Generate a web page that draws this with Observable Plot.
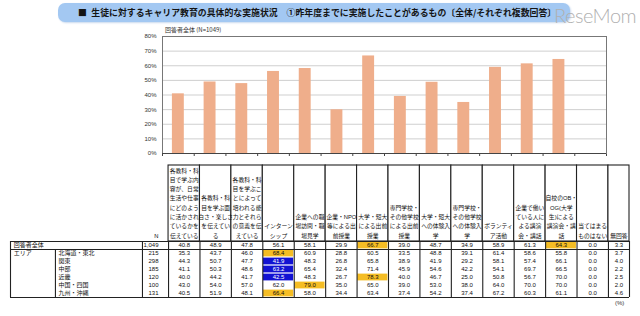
<!DOCTYPE html>
<html><head><meta charset="utf-8">
<script src="https://cdn.jsdelivr.net/npm/d3@7"></script>
<script src="https://cdn.jsdelivr.net/npm/@observablehq/plot@0.6"></script>
<style>
body{margin:0;background:#fff;}
#wrap{position:relative;width:640px;height:316px;overflow:hidden;background:#fff;font-family:"Liberation Sans","Noto Sans CJK JP",sans-serif;}
#wrap svg{position:absolute;left:0;}
.titlebar{position:absolute;left:58px;top:3px;width:512px;height:19px;background:#a3c8f2;border-radius:7px;box-shadow:1px 1px 2px #c9d9ee;}
.title{position:absolute;left:78px;top:3px;font-size:8.9px;font-weight:bold;color:#141414;line-height:19px;white-space:nowrap;font-family:"Noto Sans CJK JP",sans-serif;}
.logo{position:absolute;left:554px;top:3px;font-size:20px;color:#b0b0b0;font-family:Lato,"Open Sans",sans-serif;font-weight:300;letter-spacing:-0.5px;}
.sub{position:absolute;left:165px;top:25px;font-size:6px;color:#333;font-family:"Noto Sans CJK JP",sans-serif;}
.pct{position:absolute;left:615px;top:300px;font-size:6px;color:#333;}
</style></head><body><div id="wrap"></div>
<script>
// ---- data ----
const columns = [
 "各教科・科\n目で学ぶ内\n容が、日常\n生活や仕事\nにどのよう\nに活かされ\nているかを\n伝えている",
 "各教科・科\n目を学ぶ面\n白さ・楽しさ\nを伝えてい\nる",
 "各教科・科\n目を学ぶこ\nとによって\n培われる能\n力とそれら\nの意義を伝\nえている",
 "インターン\nシップ",
 "企業への職\n場訪問・職\n場見学",
 "企業・NPO\n等による出\n前授業",
 "大学・短大\nによる出前\n授業",
 "専門学校・\nその他学校\nによる出前\n授業",
 "大学・短大\nへの体験入\n学",
 "専門学校・\nその他学校\nへの体験入\n学",
 "ボランティ\nア活動",
 "企業で働い\nている人に\nよる講演\n会・講話",
 "自校のOB・\nOG(大学\n生)による\n講演会・講\n話",
 "当てはまる\nものはない",
 "無回答"
];
const rowNames = ["回答者全体","北海道・東北","関東","中部","近畿","中国・四国","九州・沖縄"];
const rowN = ["1,049","215","298","185","120","100","131"];
const vTotal    = [40.8,48.9,47.8,56.1,58.1,29.9,66.7,39.0,48.7,34.9,58.9,61.3,64.3,0.0,3.3];
const vHokkaido = [35.3,43.7,46.0,68.4,60.9,28.8,60.5,33.5,48.8,39.1,61.4,58.6,55.8,0.0,3.7];
const vKanto    = [44.3,50.7,47.7,41.9,48.3,26.8,65.8,38.9,41.9,29.2,58.1,57.4,66.1,0.0,4.0];
const vChubu    = [41.1,50.3,48.6,63.2,65.4,32.4,71.4,45.9,54.6,42.2,54.1,69.7,66.5,0.0,2.2];
const vKinki    = [40.0,44.2,41.7,42.5,48.3,26.7,78.3,40.0,46.7,25.0,50.8,56.7,70.0,0.0,2.5];
const vChugoku  = [43.0,54.0,57.0,62.0,79.0,35.0,65.0,39.0,53.0,38.0,64.0,70.0,70.0,0.0,2.0];
const vKyushu   = [40.5,51.9,48.1,66.4,58.0,34.4,63.4,37.4,54.2,37.4,67.2,60.3,61.1,0.0,4.6];
const highCells = [["回答者全体",6],["回答者全体",12],["北海道・東北",3],["近畿",6],["中国・四国",4],["九州・沖縄",3]];
const lowCells  = [["関東",3],["中部",3],["近畿",3]];
const yTicks = [0,10,20,30,40,50,60,70,80];
const chartTitle = "回答者全体 (N=1049)";
const mainTitle = "生徒に対するキャリア教育の具体的な実施状況\u3000①昨年度までに実施したことがあるもの〔全体/それぞれ複数回答〕";

// ---- build ----
const wrap = document.getElementById("wrap");
const font = "'Liberation Sans','Noto Sans CJK JP',sans-serif";
wrap.insertAdjacentHTML("beforeend",
  `<div class="titlebar"></div><div class="title">■\u2002${mainTitle}</div><div class="logo">ReseMom</div><div class="sub">${chartTitle}</div><div class="pct">(%)</div>`);

// bar chart (first 14 items, 無回答 excluded)
const nBars = 14;
const chartData = d3.range(nBars).map(i => ({i, cat: columns[i].replace(/\n/g, ""), value: vTotal[i]}));
const chart = Plot.plot({
  width: 640, height: 160,
  marginTop: 36, marginBottom: 7, marginLeft: 162, marginRight: 34,
  style: {background: "transparent", fontSize: "6px", fontFamily: font, color: "#333", overflow: "visible"},
  x: {domain: [0, nBars], axis: null},
  y: {domain: [0, 80], axis: null},
  marks: [
    Plot.gridY(yTicks.filter(t => t > 0 && t < 80), {stroke: "#cfcfcf", strokeOpacity: 1}),
    Plot.rectY(chartData, {x: "i", interval: 1, y: "value", fill: "#efae8b", insetLeft: 9.9, insetRight: 9.9}),
    Plot.axisY(yTicks, {tickFormat: d => d + "%", tickSize: 0, tickPadding: 6, fill: "#333", label: null}),
    Plot.axisX(d3.range(nBars + 1), {tickFormat: () => "", tickSize: 3, stroke: "#444", label: null}),
    Plot.frame({stroke: "#777"}),
    Plot.ruleY([0], {stroke: "#444"})
  ]
});
chart.style.top = "0px";
wrap.appendChild(chart);

// table geometry in column units
const lastW = 0.67;
const xLeft = -5.03, xRight = columns.length - 1 + lastW;
const colX1 = c => c, colX2 = c => c === columns.length - 1 ? c + lastW : c + 1;
const colData = columns.map((label, c) => ({c, label}));
const boundaries = d3.range(columns.length).concat([xRight]);

// header
const header = Plot.plot({
  width: 640, height: 82,
  marginTop: 5, marginBottom: 1, marginLeft: 10, marginRight: 11,
  style: {background: "transparent", fontSize: "5.8px", fontFamily: font, color: "#111", overflow: "visible"},
  x: {domain: [xLeft, xRight], axis: null},
  marks: [
    Plot.rect(colData, {x1: d => colX1(d.c), x2: d => colX2(d.c), fill: "white", stroke: "#222", strokeWidth: 1.1}),
    Plot.text(colData, {x: d => (colX1(d.c) + colX2(d.c)) / 2, text: "label", frameAnchor: "bottom", lineAnchor: "bottom", dy: -4, lineHeight: 1.6, fill: "#111"}),
    Plot.text(["N"], {x: -0.32, text: d => d, frameAnchor: "bottom", lineAnchor: "bottom", dy: -4, textAnchor: "end", fill: "#111"})
  ]
});
header.style.top = "160px";
wrap.appendChild(header);

// body
const allRows = [vTotal, vHokkaido, vKanto, vChubu, vKinki, vChugoku, vKyushu];
const cells = [];
allRows.forEach((vals, r) => vals.forEach((v, c) => {
  const name = rowNames[r];
  let mark = null;
  if (highCells.some(([n, k]) => n === name && k === c)) mark = "high";
  if (lowCells.some(([n, k]) => n === name && k === c)) mark = "low";
  cells.push({r, c, v, mark});
}));
const rowData = rowNames.map((name, r) => ({r, name, n: rowN[r]}));
const body = Plot.plot({
  width: 640, height: 80,
  marginTop: 5, marginBottom: 19, marginLeft: 10, marginRight: 11,
  style: {background: "transparent", fontSize: "6px", fontFamily: font, color: "#111", overflow: "visible"},
  x: {domain: [xLeft, xRight], axis: null},
  y: {domain: [0, rowNames.length], reverse: true, axis: null},
  color: {type: "identity"},
  marks: [
    Plot.rect(cells.filter(d => d.mark), {x1: d => colX1(d.c), x2: d => colX2(d.c), y1: "r", y2: d => d.r + 1,
      fill: d => d.mark === "high" ? "#f5bd24" : "#1212d2", inset: 0.6}),
    Plot.text(cells, {x: d => (colX1(d.c) + colX2(d.c)) / 2, y: d => d.r + 0.5, text: d => d.v.toFixed(1),
      fill: d => d.mark === "low" ? "#ffffff" : "#111111"}),
    Plot.text(rowData, {x: d => d.r === 0 ? -4.93 : -3.5, y: d => d.r + 0.5, text: "name", textAnchor: "start", fill: "#111", fontWeight: d => d.r === 0 ? "bold" : "normal"}),
    Plot.text(["エリア"], {x: -4.93, y: 1.5, text: d => d, textAnchor: "start", fill: "#111"}),
    Plot.text(rowData, {x: -0.32, y: d => d.r + 0.5, text: "n", textAnchor: "end", fill: "#111"}),
    Plot.ruleX(boundaries, {stroke: "#222", strokeWidth: 1.1}),
    Plot.ruleX([xLeft, -0.83], {stroke: "#222", strokeWidth: 1.1}),
    Plot.ruleX([-3.6], {y1: 1, y2: rowNames.length, stroke: "#222", strokeWidth: 1.1}),
    Plot.ruleY([0, 1, rowNames.length], {stroke: "#222", strokeWidth: 1.2})
  ]
});
body.style.top = "236px";
wrap.appendChild(body);
</script></body></html>
